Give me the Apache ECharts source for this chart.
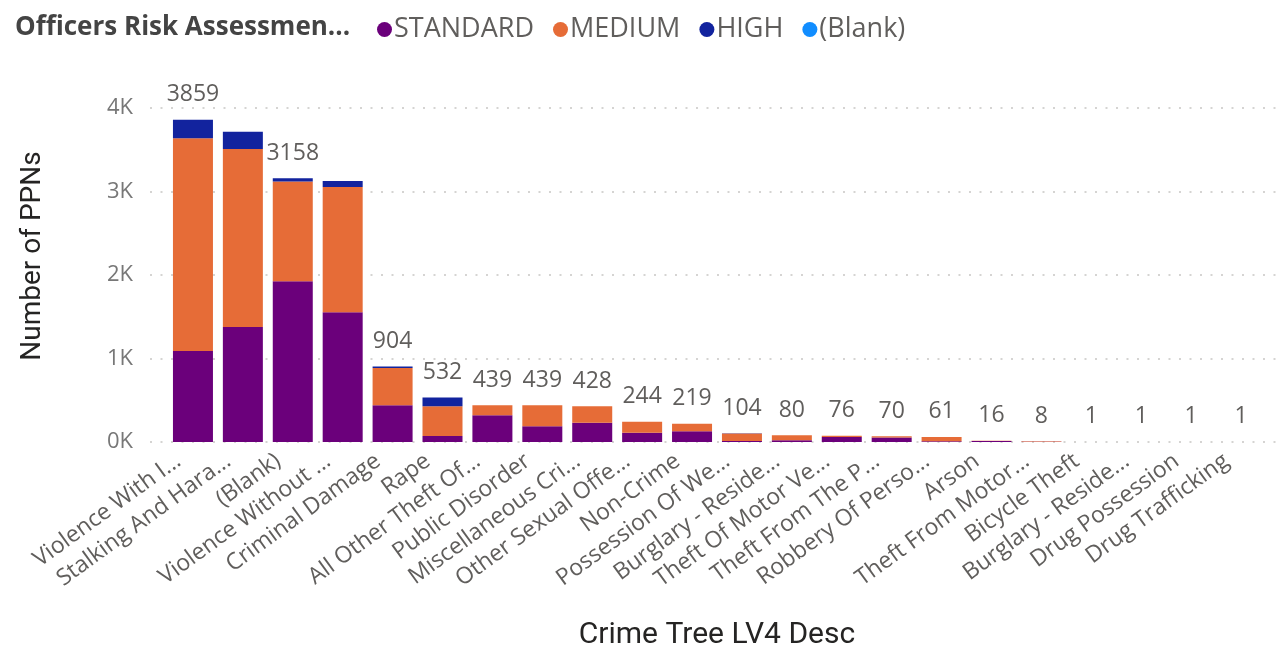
<!DOCTYPE html>
<html>
<head>
<meta charset="utf-8">
<title>Officers Risk Assessment</title>
<script src="https://cdn.jsdelivr.net/npm/echarts@6.0.0/dist/echarts.min.js"></script>
<style>
  html, body { margin: 0; padding: 0; background: #fff; }
  #chart { width: 1284px; height: 648px; }
</style>
</head>
<body>
<div id="chart"></div>
<script>
const categories = [
  'Violence With I...', 'Stalking And Hara...', '(Blank)', 'Violence Without ...',
  'Criminal Damage', 'Rape', 'All Other Theft Of...', 'Public Disorder',
  'Miscellaneous Cri...', 'Other Sexual Offe...', 'Non-Crime', 'Possession Of We...',
  'Burglary - Reside...', 'Theft Of Motor Ve...', 'Theft From The P...', 'Robbery Of Perso...',
  'Arson', 'Theft From Motor...', 'Bicycle Theft', 'Burglary - Reside...',
  'Drug Possession', 'Drug Trafficking'
];

const standardVals = [1090, 1377, 1925, 1553, 440, 72, 320, 188, 231, 111, 130, 12, 20, 60, 55, 8, 12, 2, 1, 1, 1, 1];
const mediumVals   = [2547, 2132, 1195, 1500, 446, 356, 119, 251, 197, 133, 89, 90, 60, 16, 15, 53, 4, 6, 0, 0, 0, 0];
const highVals     = [222, 208, 38, 72, 18, 104, 0, 0, 0, 0, 0, 2, 0, 0, 0, 0, 0, 0, 0, 0, 0, 0];
const blankVals    = [0, 0, 0, 0, 0, 0, 0, 0, 0, 0, 0, 0, 0, 0, 0, 0, 0, 0, 0, 0, 0, 0];

// totals shown above the bars (Power BI drops the ones that would collide)
const totals = [3859, 3717, 3158, 3125, 904, 532, 439, 439, 428, 244, 219, 104, 80, 76, 70, 61, 16, 8, 1, 1, 1, 1];
const hiddenTotals = [1, 3];

const yTicks = [0, 1000, 2000, 3000, 4000];

const font = '"Open Sans", "Noto Sans", sans-serif';
const titleFont = 'Roboto, "Open Sans", sans-serif';
const colors = { STANDARD: '#6B007B', MEDIUM: '#E66C37', HIGH: '#12239E', '(Blank)': '#118DFF' };

const chart = echarts.init(document.getElementById('chart'));

const barSeries = (name, data) => ({
  name,
  type: 'bar',
  stack: 'risk',
  xAxisIndex: 0,
  yAxisIndex: 0,
  barWidth: 40,
  data,
  itemStyle: { color: colors[name] },
});

const option = {
  animation: false,
  title: {
    text: 'Officers Risk Assessmen...',
    left: 10,
    top: 10,
    textStyle: { fontFamily: font, fontSize: 26, fontWeight: 'bold', color: '#444444' },
  },
  legend: {
    data: ['STANDARD', 'MEDIUM', 'HIGH', '(Blank)'],
    left: 372,
    top: 11,
    icon: 'circle',
    itemWidth: 15,
    itemHeight: 15,
    itemGap: 19,
    textStyle: { fontFamily: font, fontSize: 27, color: '#605E5C', padding: [0, 0, 0, -3] },
  },
  grid: [
    { left: 168, right: 18, top: 108, bottom: 206, outerBoundsMode: 'none' },
    { left: 150, right: 0, top: 108, bottom: 206, outerBoundsMode: 'none' },
  ],
  xAxis: [
    {
      type: 'category',
      gridIndex: 0,
      data: categories,
      axisLine: { show: false },
      axisTick: { show: false },
      axisLabel: {
        interval: 0,
        rotate: 36,
        margin: 6,
        padding: [0, 18, 0, 0],
        fontFamily: font,
        fontSize: 23,
        color: '#605E5C',
      },
      name: 'Crime Tree LV4 Desc',
      nameLocation: 'middle',
      nameGap: 178,
      nameTextStyle: { fontFamily: titleFont, fontSize: 30, color: '#252423' },
    },
    { type: 'value', gridIndex: 1, show: false },
  ],
  yAxis: [
    { type: 'value', gridIndex: 0, min: 0, max: 4000, interval: 1000, show: false },
    {
      type: 'value',
      gridIndex: 1,
      min: yTicks[0],
      max: yTicks[yTicks.length - 1],
      interval: 1000,
      axisLine: { show: false },
      axisTick: { show: false },
      axisLabel: {
        margin: 17,
        fontFamily: font,
        fontSize: 22,
        color: '#777777',
        formatter: v => (v / 1000) + 'K',
      },
      splitLine: {
        lineStyle: { color: '#C8C6C4', width: 1.5, type: [2, 8.5] },
      },
    },
  ],
  graphic: [
    {
      type: 'text',
      x: 33,
      y: 256,
      rotation: Math.PI / 2,
      style: {
        text: 'Number of PPNs',
        fontFamily: titleFont,
        fontSize: 28,
        fill: '#252423',
        align: 'center',
        verticalAlign: 'middle',
      },
    },
  ],
  series: [
    barSeries('STANDARD', standardVals),
    barSeries('MEDIUM', mediumVals),
    barSeries('HIGH', highVals),
    barSeries('(Blank)', blankVals),
    {
      name: 'Total',
      type: 'line',
      xAxisIndex: 0,
      yAxisIndex: 0,
      symbol: 'circle',
      symbolSize: 1,
      showSymbol: true,
      itemStyle: { color: 'rgba(0,0,0,0)' },
      lineStyle: { color: 'rgba(0,0,0,0)' },
      silent: true,
      data: totals.map((v, i) => ({
        value: v,
        label: { show: !hiddenTotals.includes(i) },
      })),
      label: {
        show: true,
        position: 'top',
        distance: 13,
        fontFamily: font,
        fontSize: 23,
        color: '#605E5C',
      },
    },
  ],
};

chart.setOption(option);
window.addEventListener('resize', () => chart.resize());
</script>
</body>
</html>
